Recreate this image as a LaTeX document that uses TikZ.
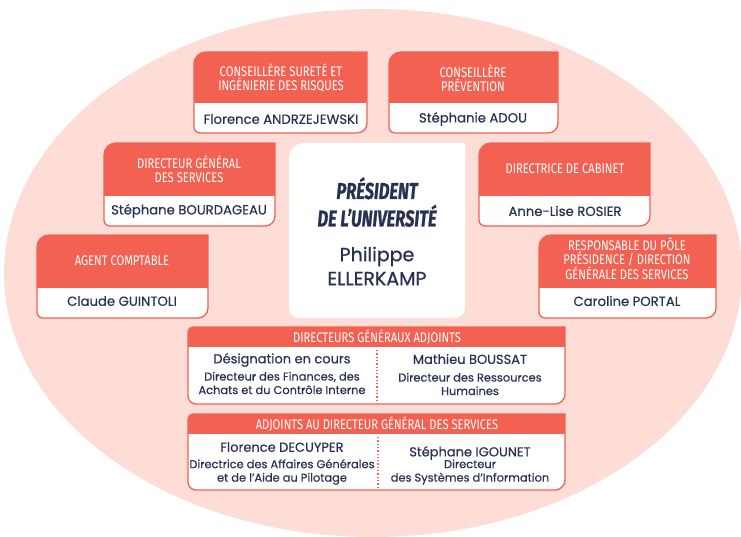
\documentclass[tikz,border=0pt]{standalone}
\usepackage{fontspec}
\setmainfont{Poppins}[FakeBold=0.35]
\newfontfamily\hdfont[FakeStretch=0.8]{Fira Sans}
\newfontfamily\presfont[FakeStretch=0.72, FakeBold=0.8]{Fira Sans}
\newfontfamily\presnamefont[FakeBold=0.9]{Poppins}
\definecolor{hdred}{HTML}{F26152}
\definecolor{bgpink}{HTML}{FDDDD5}
\definecolor{navy}{HTML}{273152}
\newcommand\orgpath[7]{(#1,#4-#7) -- (#1,#2+#5) .. controls (#1,#2+0.448*#5) and (#1+0.448*#5,#2) .. (#1+#5,#2) -- (#3,#2) -- (#3,#4-#6) .. controls (#3,#4-0.448*#6) and (#3-0.448*#6,#4) .. (#3-#6,#4) -- (#1+#7,#4) .. controls (#1+0.448*#7,#4) and (#1,#4-0.448*#7) .. (#1,#4-#7) -- cycle}
\newcommand\orgbox[8]{%
  \fill[white] \orgpath{#1}{#2}{#3}{#4}{#6}{#7}{#8};
  \begin{scope}
    \clip \orgpath{#1}{#2}{#3}{#4}{#6}{#7}{#8};
    \fill[hdred] (#1,#2) rectangle (#3,#5);
  \end{scope}
  \draw[hdred, line width=1.3pt] \orgpath{#1}{#2}{#3}{#4}{#6}{#7}{#8};
}
\tikzset{
  hdtext/.style={text=white, font=\hdfont\fontsize{14}{14}\selectfont, align=center, inner sep=0pt},
  nametext/.style={text=navy, font=\fontsize{13.2}{15}\selectfont, align=center, inner sep=0pt},
  bigname/.style={text=navy, font=\fontsize{13}{15}\selectfont, align=center, inner sep=0pt},
  desctext/.style={text=navy, font=\fontsize{11.4}{13.5}\selectfont, align=center, inner sep=0pt},
  prestitle/.style={text=navy, font=\presfont\bfseries\itshape\fontsize{23}{27.5}\selectfont, align=center, inner sep=0pt},
  presname/.style={text=navy, font=\presnamefont\fontsize{19}{24}\selectfont, align=center, inner sep=0pt},
  divider/.style={hdred, line width=1.3pt, dash pattern=on 1.3pt off 2pt}
}
\begin{document}
\begin{tikzpicture}[x=1pt, y=-1pt]
\useasboundingbox (0,0) rectangle (741,537);
\fill[bgpink] (373,273) ellipse [x radius=369, y radius=264];

% boxes
\orgbox{194}{52}{367}{133}{103}{12}{10}{6}
\orgbox{389}{52}{558}{133}{103}{12}{10}{6}
\orgbox{104}{143}{275}{226}{196}{12}{10}{6}
\orgbox{37}{235}{208}{318}{288}{12}{10}{6}
\fill[white] \orgpath{289}{143}{465}{318}{15}{10}{10};
\orgbox{479}{143}{650}{226}{196}{12}{10}{6}
\orgbox{539}{235}{716}{318}{288}{12}{10}{6}
\orgbox{188}{327}{565}{404}{347}{5}{10}{8}
\orgbox{188}{414}{565}{490}{434}{5}{10}{8}

% headers and names
\node[hdtext] (h1) at (281,78) {CONSEILLÈRE SURETÉ ET\\INGÉNIERIE DES RISQUES};
\node[nametext] (n1) at (281,119) {Florence ANDRZEJEWSKI};
\node[hdtext] (h2) at (473,78) {CONSEILLÈRE\\PRÉVENTION};
\node[nametext] (n2) at (473,119) {Stéphanie ADOU};
\node[hdtext] (h3) at (189,169) {DIRECTEUR GÉNÉRAL\\DES SERVICES};
\node[nametext] (n3) at (189,211) {Stéphane BOURDAGEAU};
\node[hdtext] (h4) at (122,261) {AGENT COMPTABLE};
\node[nametext] (n4) at (122,301) {Claude GUINTOLI};
\node[hdtext] (h6) at (565,169) {DIRECTRICE DE CABINET};
\node[nametext] (n6) at (565,211) {Anne-Lise ROSIER};
\node[hdtext] (h7) at (627,259) {RESPONSABLE DU PÔLE\\PRÉSIDENCE / DIRECTION\\GÉNÉRALE DES SERVICES};
\node[nametext] (n7) at (627,301) {Caroline PORTAL};

% president
\node[prestitle] (pt) at (377,202) {PRÉSIDENT\\DE L’UNIVERSITÉ};
\node[presname] (pn) at (377,266) {Philippe\\ELLERKAMP};

% DGA
\node[hdtext] (h8) at (377,337) {DIRECTEURS GÉNÉRAUX ADJOINTS};
\node[bigname] (n8a) at (282,360) {Désignation en cours};
\node[desctext] (d8a) at (282,383) {Directeur des Finances, des\\Achats et du Contrôle Interne};
\node[bigname] (n8b) at (470,359) {Mathieu BOUSSAT};
\node[desctext] (d8b) at (470,384) {Directeur des Ressources\\Humaines};
\coordinate (v8t) at (377,350);
\coordinate (v8b) at (377,402);
\draw[divider] (v8t) -- (v8b);

% Adjoints
\node[hdtext] (h9) at (377,424) {ADJOINTS AU DIRECTEUR GÉNÉRAL DES SERVICES};
\node[bigname] (n9a) at (282,447) {Florence DECUYPER};
\node[desctext] (d9a) at (282,472) {Directrice des Affaires Générales\\et de l'Aide au Pilotage};
\node[bigname] (n9b) at (470,453) {Stéphane IGOUNET};
\node[desctext] (d9b) at (470,472) {Directeur\\des Systèmes d’Information};
\coordinate (v9t) at (378,437);
\coordinate (v9b) at (378,488);
\draw[divider] (v9t) -- (v9b);
\end{tikzpicture}
\end{document}
